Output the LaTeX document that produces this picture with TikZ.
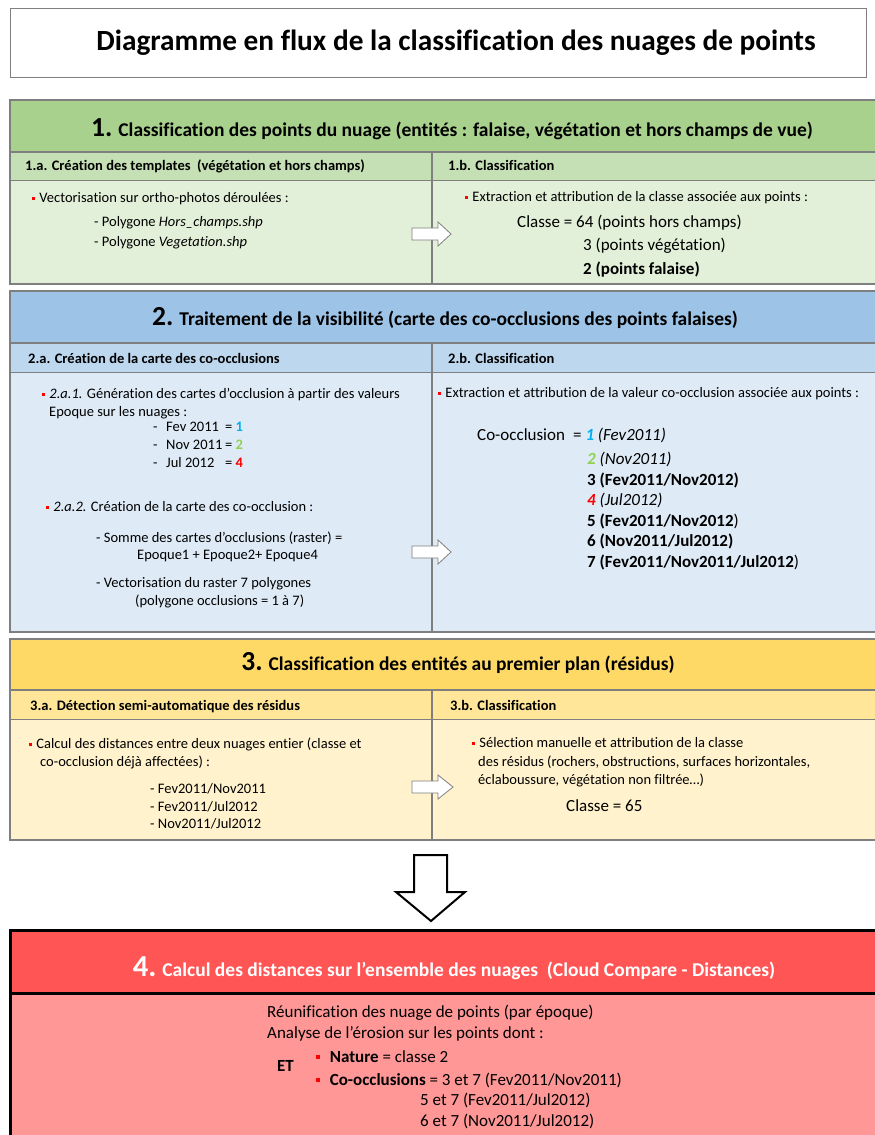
\documentclass[tikz,border=0pt]{standalone}
\usepackage{fontspec}
\setmainfont{Carlito}[Ligatures=NoCommon]
\usepackage{xcolor}

\definecolor{grnhead}{HTML}{A9D18E}
\definecolor{grnsub}{HTML}{C5E0B4}
\definecolor{grnbody}{HTML}{E2F0D9}
\definecolor{bluhead}{HTML}{9DC3E6}
\definecolor{blusub}{HTML}{BDD7EE}
\definecolor{blubody}{HTML}{DEEBF7}
\definecolor{yelhead}{HTML}{FFD966}
\definecolor{yelsub}{HTML}{FFE699}
\definecolor{yelbody}{HTML}{FFF2CC}
\definecolor{redhead}{HTML}{FF5555}
\definecolor{redbody}{HTML}{FF9797}
\definecolor{framegray}{HTML}{7F7F7F}
\definecolor{epcyan}{HTML}{00B0F0}
\definecolor{epgreen}{HTML}{92D050}

\newcommand{\fsz}[1]{\fontsize{#1}{#1}\selectfont}
\newcommand{\puce}[1][0.3em]{\textcolor{red}{\rule[0.2em]{0.2em}{0.2em}}\hspace{#1}}

\begin{document}
\begin{tikzpicture}[x=1pt,y=-1pt,
  frame/.style={draw=framegray,line width=1.3pt},
  blockarrow/.style={draw=framegray,fill=white,line width=0.8pt,line join=miter},
  titletxt/.style={inner sep=0pt,font=\fsz{29.3}\bfseries},
  headtxt/.style={inner sep=0pt,font=\fsz{19.5}\bfseries},
  subtxt/.style={anchor=west,inner sep=0pt,font=\fsz{14.5}\bfseries,text height=10.5pt,text depth=3.5pt},
  txt/.style={anchor=west,inner sep=0pt,font=\fsz{14.5},text height=10.5pt,text depth=3.5pt},
  bigtxt/.style={anchor=west,inner sep=0pt,font=\fsz{17},text height=12.5pt,text depth=4pt}]
\useasboundingbox (0,0) rectangle (875,1135);
\clip (0,0) rectangle (875,1135);
\fill[white] (0,0) rectangle (875,1135);

% title
\draw[frame,line width=1pt] (10,8) rectangle (866,77);
\node[titletxt] (title) at (456,43) {Diagramme en flux de la classification des nuages de points};

% sections 1 to 3
\foreach \top/\hb/\sb/\bot/\col in {100/152/180/284/grn,291/343/372/632/blu,639/690/719/840/yel}{
  \fill[\col head] (10,\top) rectangle (890,\hb);
  \fill[\col sub] (10,\hb) rectangle (890,\sb);
  \fill[\col body] (10,\sb) rectangle (890,\bot);
  \draw[frame] (10,\top) rectangle (890,\bot);
  \draw[frame] (10,\hb) -- (890,\hb);
  \draw[frame,line width=1pt] (10,\sb) -- (890,\sb);
  \draw[frame] (432,\hb) -- (432,\bot);
}
\foreach \ay/\tip in {234/451,552/451,787/453}
  \draw[blockarrow] (412,\ay-6) -- (438,\ay-6) -- (438,\ay-12) -- (\tip,\ay)
    -- (438,\ay+12) -- (438,\ay+6) -- (412,\ay+6) -- cycle;

% 1
\node[headtxt] (h1) at (452,129) {{\fsz{27.5}1.} Classification des points du nuage (entités : falaise, végétation et hors champs de vue)};
\node[subtxt] (s1a) at (25,167) {1.a. Création des templates~ (végétation et hors champs)};
\node[subtxt] (s1b) at (448,167) {1.b. Classification};
\node[txt] (t1a) at (32,199) {\puce Vectorisation sur ortho-photos déroulées :};
\node[txt] (t1b) at (94,223) {- Polygone \textit{Hors\_champs.shp}};
\node[txt] (t1c) at (94,243) {- Polygone \textit{Vegetation.shp}};
\node[txt] (t1d) at (465,198) {\puce Extraction et attribution de la classe associée aux points :};
\node[bigtxt] (t1e) at (517,223) {Classe = 64 (points hors champs)};
\node[bigtxt] (t1f) at (583,246) {3 (points végétation)};
\node[bigtxt] (t1g) at (583,270) {\textbf{2 (points falaise)}};

% 2
\node[headtxt] (h2) at (445,318) {{\fsz{27.5}2.} Traitement de la visibilité (carte des co-occlusions des points falaises)};
\node[subtxt] (s2a) at (28,360) {2.a. Création de la carte des co-occlusions};
\node[subtxt] (s2b) at (448,360) {2.b. Classification};
\node[txt] (t2a) at (42,395) {\puce\textit{2.a.1.} Génération des cartes d’occlusion à partir des valeurs};
\node[txt] (t2b) at (49,413) {Epoque sur les nuages :};
\foreach \yy/\ep/\num/\numcol in {428/Fev 2011/1/epcyan,446/Nov 2011/2/epgreen,464/Jul 2012/4/red}{
  \node[txt] (dash\num) at (153,\yy) {-};
  \node[txt] (ep\num) at (166,\yy) {\ep};
  \node[txt] (val\num) at (225,\yy) {= \textcolor{\numcol}{\textbf{\num}}};
}
\node[txt] (t2c) at (46,508) {\puce\textit{2.a.2.} Création de la carte des co-occlusion :};
\node[txt] (t2d) at (96,539) {- Somme des cartes d’occlusions (raster) =};
\node[txt] (t2e) at (137,556) {Epoque1 + Epoque2+ Epoque4};
\node[txt] (t2f) at (96,584) {- Vectorisation du raster 7 polygones};
\node[txt] (t2g) at (135,602) {(polygone occlusions = 1 à 7)};
\node[txt] (t2h) at (438,394) {\puce Extraction et attribution de la valeur co-occlusion associée aux points :};
\node[bigtxt] (co) at (477,436) {Co-occlusion};
\node[bigtxt] (co1) at (573,436) {= \textcolor{epcyan}{\textbf{\textit{1}}} \textit{(Fev2011)}};
\node[bigtxt] (co2) at (587,460) {\textcolor{epgreen}{\textbf{\textit{2}}} \textit{(Nov2011)}};
\node[bigtxt] (co3) at (587,481) {\textbf{3 (Fev2011/Nov2012)}};
\node[bigtxt] (co4) at (587,501) {\textcolor{red}{\textbf{\textit{4}}} \textit{(Jul2012)}};
\node[bigtxt] (co5) at (587,522) {\textbf{5 (Fev2011/Nov2012}) };
\node[bigtxt] (co6) at (587,542) {\textbf{6 (Nov2011/Jul2012)}};
\node[bigtxt] (co7) at (587,563) {\textbf{7 (Fev2011/Nov2011/Jul2012})};

% 3
\node[headtxt] (h3) at (458,663) {{\fsz{27.5}3.} Classification des entités au premier plan (résidus)};
\node[subtxt] (s3a) at (30,707) {3.a. Détection semi-automatique des résidus};
\node[subtxt] (s3b) at (450,707) {3.b. Classification};
\node[txt] (t3a) at (29,745) {\puce Calcul des distances entre deux nuages entier (classe et};
\node[txt] (t3b) at (40,763) {co-occlusion déjà affectées) :};
\node[txt] (t3c) at (150,790) {- Fev2011/Nov2011};
\node[txt] (t3d) at (150,808) {- Fev2011/Jul2012};
\node[txt] (t3e) at (150,825) {- Nov2011/Jul2012};
\node[txt] (t3f) at (472,744) {\puce Sélection manuelle et attribution de la classe};
\node[txt] (t3g) at (478,763) {des résidus (rochers, obstructions, surfaces horizontales,};
\node[txt] (t3h) at (478,781) {éclaboussure, végétation non filtrée…)};
\node[bigtxt] (t3i) at (566,807) {Classe = 65};

% arrow down
\draw[line width=2pt,fill=white,line join=miter] (414,855) -- (447,855) -- (447,892) -- (465,892)
  -- (431,921) -- (396,892) -- (414,892) -- cycle;

% 4
\fill[redhead] (10,930) rectangle (890,993);
\fill[redbody] (10,993) rectangle (890,1150);
\draw[line width=3pt] (10,930) rectangle (890,1150);
\draw[line width=3pt] (10,993) -- (890,993);
\node[headtxt,text=white] (h4) at (454,968) {{\fsz{30.5}4.} Calcul des distances sur l’ensemble des nuages~ (Cloud Compare - Distances)};
\node[bigtxt] (t4a) at (267,1013) {Réunification des nuage de points (par époque)};
\node[bigtxt] (t4b) at (267,1034) {Analyse de l’érosion sur les points dont :};
\node[bigtxt] (et) at (277,1067) {\textbf{ET}};
\node[bigtxt] (t4c) at (316,1058) {\puce[0.6em]\textbf{Nature} = classe 2};
\node[bigtxt] (t4d) at (316,1081) {\puce[0.6em]\textbf{Co-occlusions} = 3 et 7 (Fev2011/Nov2011)};
\node[bigtxt] (t4e) at (420,1101) {5 et 7 (Fev2011/Jul2012)};
\node[bigtxt] (t4f) at (420,1122) {6 et 7 (Nov2011/Jul2012)};
\end{tikzpicture}
\end{document}
